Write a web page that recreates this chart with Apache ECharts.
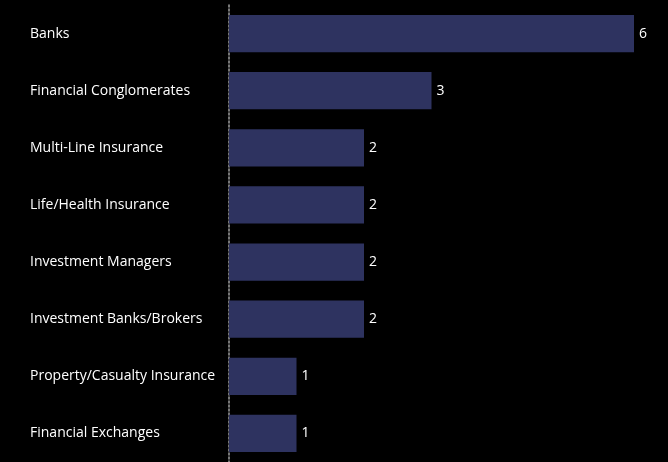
<!DOCTYPE html>
<html><head><meta charset="utf-8">
<script src="https://cdn.jsdelivr.net/npm/echarts@6/dist/echarts.min.js"></script>
<style>html,body{margin:0;padding:0;background:#000;}#c{width:668px;height:462px;}</style>
</head><body><div id="c"></div>
<script>
const categories = ["Banks","Financial Conglomerates","Multi-Line Insurance","Life/Health Insurance","Investment Managers","Investment Banks/Brokers","Property/Casualty Insurance","Financial Exchanges"];
const values = [6,3,2,2,2,2,1,1];
const chart = echarts.init(document.getElementById('c'));
chart.setOption({
  backgroundColor:'#000',
  animation:false,
  grid:{left:229,width:405,top:5,height:460,containLabel:false},
  xAxis:{type:'value',min:0,max:6,show:false},
  yAxis:{type:'category',data:categories,inverse:true,
    axisLine:{show:true,lineStyle:{color:'#a0a0a0',type:[2,2],width:1.5}},
    axisTick:{show:false},
    axisLabel:{color:'#ffffff',fontFamily:'Open Sans',fontSize:14,align:'left',margin:199}
  },
  series:[{type:'bar',data:values,barCategoryGap:'35%',
    itemStyle:{color:'#2e3360'},
    label:{show:true,position:'right',color:'#ffffff',fontFamily:'Open Sans',fontSize:14,distance:5}
  }]
});
</script></body></html>
